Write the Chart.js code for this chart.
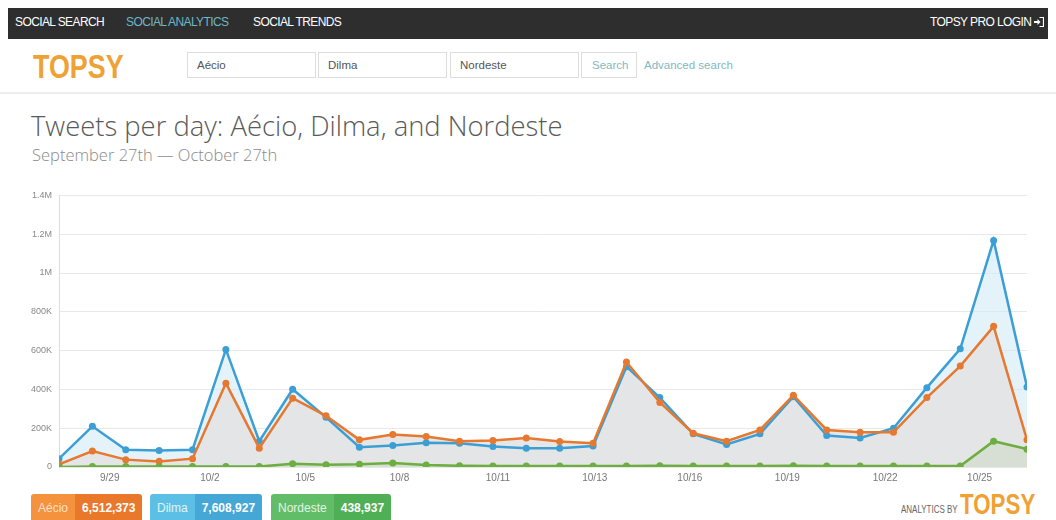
<!DOCTYPE html>
<html>
<head>
<meta charset="utf-8">
<script src="https://cdn.jsdelivr.net/npm/chart.js@4.4.0/dist/chart.umd.min.js"></script>
<style>
  html,body{margin:0;padding:0;background:#fff;width:1056px;height:520px;overflow:hidden;font-family:"Liberation Sans",Arial,sans-serif;}
  .topbar{position:absolute;left:8px;top:8px;width:1040px;height:31px;background:#2e2e2e;}
  .nav{position:absolute;top:15px;font-size:12px;color:#fff;letter-spacing:-0.6px;line-height:14px;white-space:nowrap;}
  .logo{position:absolute;font-family:"Liberation Sans",Arial,sans-serif;font-weight:bold;color:#f0a133;transform-origin:0 0;white-space:nowrap;line-height:1;}
  .inp{position:absolute;top:52px;height:26px;border:1px solid #ddd;box-sizing:border-box;font-size:11.5px;color:#555;padding:6px 0 0 9px;}
  .title{position:absolute;left:31px;top:107px;font-family:"Open Sans",sans-serif;font-weight:300;font-size:27.4px;color:#5a5a5a;white-space:nowrap;}
  .subtitle{position:absolute;left:32px;top:143px;font-family:"Open Sans",sans-serif;font-weight:300;font-size:16.5px;color:#8a8a8a;white-space:nowrap;}
  .badge{position:absolute;top:494px;height:28px;display:flex;font-size:12px;color:#fff;line-height:28px;border-radius:3px;overflow:hidden;}
  .badge span{display:block;padding:0 7px;}
  .badge b{display:block;padding:0 7px;}
  #wrap{position:absolute;left:0;top:183px;width:1056px;height:305px;}
</style>
</head>
<body>
<div class="topbar"></div>
<div class="nav" style="left:15px;">SOCIAL SEARCH</div>
<div class="nav" style="left:126px;color:#6cb7c9;">SOCIAL ANALYTICS</div>
<div class="nav" style="left:253px;">SOCIAL TRENDS</div>
<div class="nav" style="left:930px;">TOPSY PRO LOGIN
  <svg width="10" height="10" viewBox="0 0 10 10" style="vertical-align:-1px;margin-left:0px;">
    <path d="M0 4h3.5V2l3 3-3 3V6H0z" fill="#fff"/>
    <path d="M5.5 0.5H9.5V9.5H5.5" stroke="#fff" stroke-width="1.2" fill="none"/>
  </svg>
</div>

<div class="logo" style="left:33px;top:49px;font-size:34px;transform:scaleX(0.79);">TOPSY</div>
<div class="inp" style="left:187px;width:129px;">Aécio</div>
<div class="inp" style="left:318px;width:129px;">Dilma</div>
<div class="inp" style="left:450px;width:129px;">Nordeste</div>
<div class="inp" style="left:581px;width:56px;color:#7fb9c3;padding-left:10px;">Search</div>
<div style="position:absolute;left:644px;top:59px;font-size:11.5px;color:#7fb9c3;">Advanced search</div>
<div style="position:absolute;left:0;top:92px;width:1056px;height:2px;background:#ececec;"></div>

<div class="title">Tweets per day: Aécio, Dilma, and Nordeste</div>
<div class="subtitle">September 27th — October 27th</div>

<div id="wrap"><canvas id="c"></canvas></div>

<div class="badge" style="left:31px;"><span style="background:#f5923e;color:#fde0c8;">Aécio</span><b style="background:#e9782b;">6,512,373</b></div>
<div class="badge" style="left:150px;"><span style="background:#5cc0e6;color:#e0f4fb;">Dilma</span><b style="background:#45a7d6;">7,608,927</b></div>
<div class="badge" style="left:271px;"><span style="background:#62bd69;color:#e3f4e4;">Nordeste</span><b style="background:#4faf54;">438,937</b></div>

<div style="position:absolute;left:901px;top:503px;font-size:10.5px;color:#666;transform:scaleX(0.76);transform-origin:0 0;white-space:nowrap;">ANALYTICS BY</div>
<div class="logo" style="left:960px;top:490px;font-size:29px;transform:scaleX(0.77);">TOPSY</div>

<script>
// Dates (one point per day)
const categories = ['9/27','9/28','9/29','9/30','10/1','10/2','10/3','10/4','10/5','10/6',
  '10/7','10/8','10/9','10/10','10/11','10/12','10/13','10/14','10/15','10/16',
  '10/17','10/18','10/19','10/20','10/21','10/22','10/23','10/24','10/25','10/26'];

const aecio = [14000,82000,38000,29000,43000,432000,97000,355000,264000,140000,
  167000,157000,133000,137000,149000,131000,123000,541000,333000,174000,
  133000,191000,370000,191000,179000,179000,358000,520000,725000,140000];

const dilma = [43000,210000,89000,85000,89000,606000,133000,401000,256000,102000,
  111000,125000,123000,106000,97000,97000,108000,517000,358000,171000,
  116000,171000,362000,162000,150000,200000,409000,609000,1168000,413000];

const nordeste = [0,2000,2000,2000,2000,3000,2000,17000,12000,14000,
  21000,10000,6000,5000,5000,5000,5000,5000,6000,5000,
  5000,5000,6000,5000,5000,5000,5000,5000,133000,92000];

// x-axis tick labels and where they sit (in day units from the first point)
const tickLabels = ['9/29','10/2','10/5','10/8','10/11','10/13','10/16','10/19','10/22','10/25'];
const tickDays = [1.52,4.52,7.38,10.2,13.15,16.05,18.9,21.82,24.75,27.58];

const yTicks = [0,200000,400000,600000,800000,1000000,1200000,1400000];

const toXY = arr => arr.map((v,i)=>({x:i,y:v}));

function fmtY(v){
  if(v===0) return '0';
  if(v>=1000000) return (v/1000000)+'M';
  return (v/1000)+'K';
}

new Chart(document.getElementById('c'), {
  type:'line',
  data:{
    datasets:[
      {label:'Nordeste', data:toXY(nordeste), borderColor:'#6cae3f', backgroundColor:'rgba(150,185,110,0.16)',
       pointBackgroundColor:'#6cae3f', pointBorderColor:'#6cae3f', fill:'origin'},
      {label:'Aécio', data:toXY(aecio), borderColor:'#e7782f', backgroundColor:'rgba(228,228,228,0.92)',
       pointBackgroundColor:'#e7782f', pointBorderColor:'#e7782f', fill:'origin'},
      {label:'Dilma', data:toXY(dilma), borderColor:'#3b9fd5', backgroundColor:'rgba(205,231,246,0.55)',
       pointBackgroundColor:'#3b9fd5', pointBorderColor:'#3b9fd5', fill:'origin'}
    ]
  },
  options:{
    responsive:true, maintainAspectRatio:false, animation:false,
    layout:{padding:{top:9,right:29,left:0,bottom:0}},
    elements:{line:{borderWidth:2.5,tension:0}, point:{radius:3.5,borderWidth:0,hoverRadius:4}},
    plugins:{legend:{display:false}, tooltip:{enabled:false}, filler:{drawTime:'beforeDatasetsDraw'}},
    scales:{
      x:{type:'linear', min:0, max:categories.length-1,
        grid:{display:false, drawTicks:false},
        border:{display:false},
        afterBuildTicks:s=>{ s.ticks = tickDays.map(v=>({value:v})); },
        afterFit:s=>{ s.height = 21; },
        ticks:{autoSkip:false, maxRotation:0, padding:5, color:'#777',
          font:{family:'Liberation Sans', size:10},
          callback:(v,i)=>tickLabels[i]}
      },
      y:{min:0,max:1400000,
        afterBuildTicks:s=>{ s.ticks = yTicks.map(v=>({value:v})); },
        afterFit:s=>{ s.width = 59; },
        grid:{color:'#e8e8e8', drawTicks:false, lineWidth:1},
        border:{display:true, color:'#dcdcdc'},
        ticks:{padding:7, color:'#888', font:{family:'Liberation Sans', size:9}, callback:v=>fmtY(v)}
      }
    }
  }
});
</script>
</body>
</html>
